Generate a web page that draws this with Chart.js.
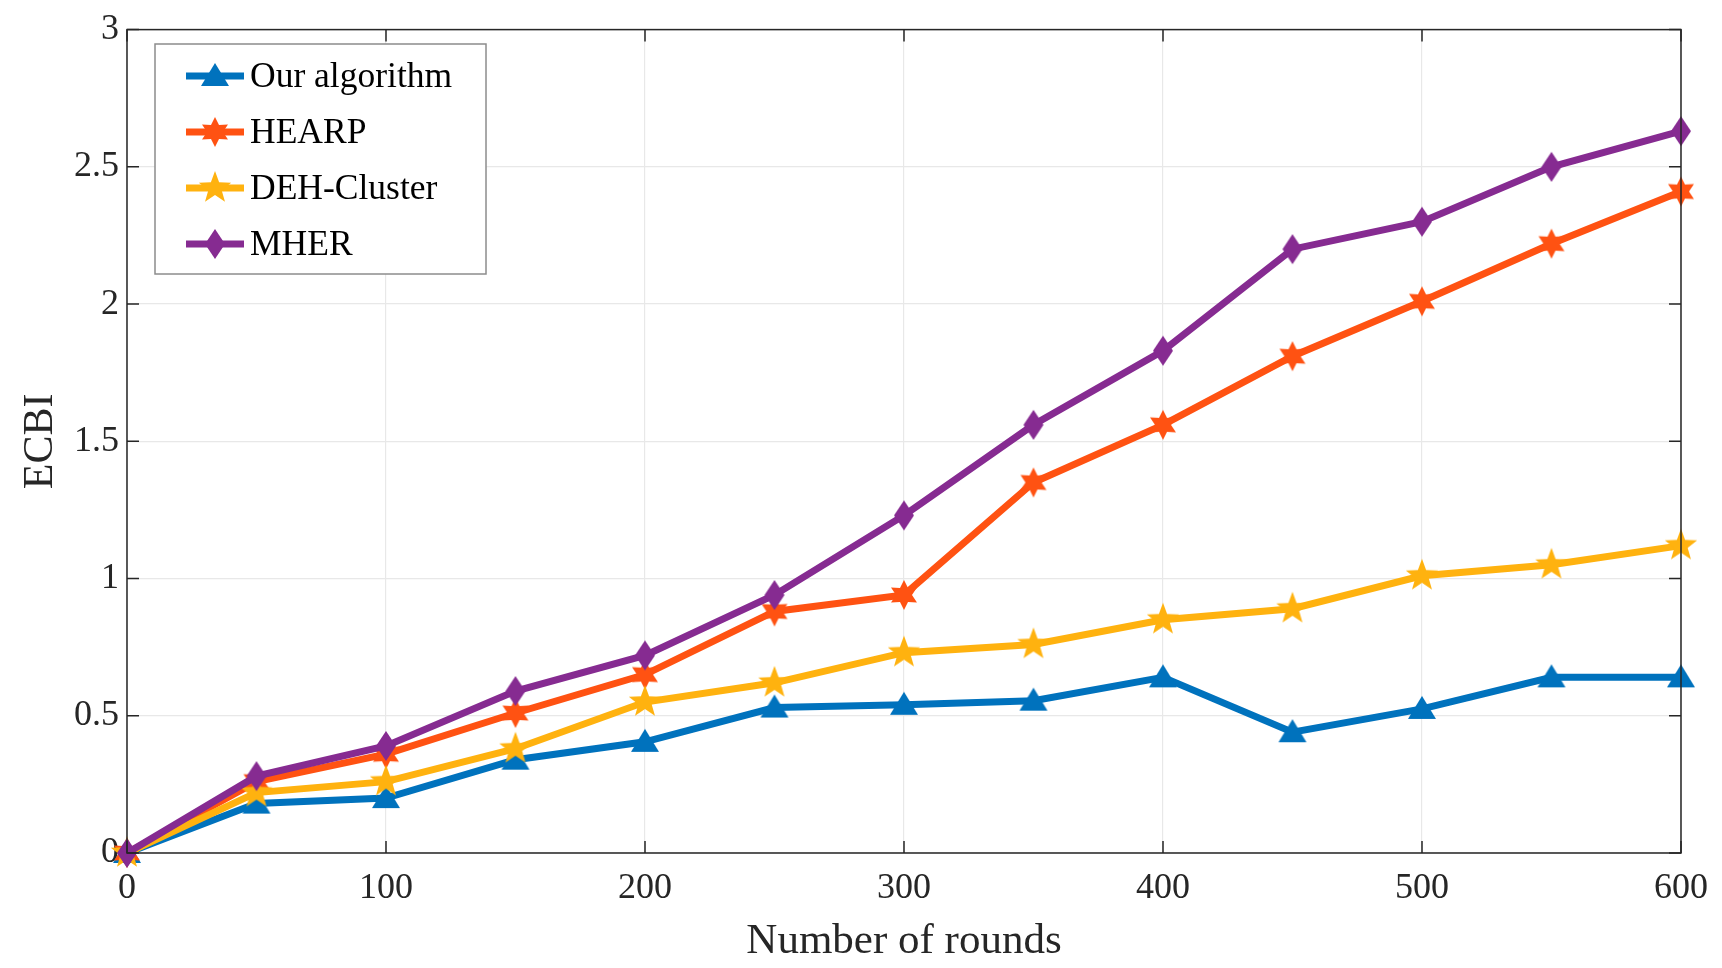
<!DOCTYPE html>
<html lang="en">
<head>
<meta charset="UTF-8">
<title>ECBI vs rounds</title>
<script src="https://cdn.jsdelivr.net/npm/chart.js@4.4.1/dist/chart.umd.min.js"></script>
<style>
    html, body { margin: 0; padding: 0; background: #fff; }
    #wrap { width: 1722px; height: 968px; }
</style>
</head>
<body>
<div id="wrap"><canvas id="chart"></canvas></div>
<script>
    const rounds = [0, 50, 100, 150, 200, 250, 300, 350, 400, 450, 500, 550, 600];
    const ourAlgorithm = [0, 0.18, 0.20, 0.34, 0.405, 0.53, 0.54, 0.555, 0.64, 0.44, 0.525, 0.64, 0.64];
    const hearp = [0, 0.26, 0.36, 0.51, 0.65, 0.88, 0.94, 1.35, 1.56, 1.81, 2.01, 2.22, 2.41];
    const dehCluster = [0, 0.22, 0.26, 0.38, 0.55, 0.62, 0.73, 0.76, 0.85, 0.89, 1.01, 1.05, 1.12];
    const mher = [0, 0.28, 0.39, 0.59, 0.72, 0.94, 1.23, 1.56, 1.83, 2.20, 2.30, 2.50, 2.63];
    const seriesNames = ['Our algorithm', 'HEARP', 'DEH-Cluster', 'MHER'];
    const xTicks = [0, 100, 200, 300, 400, 500, 600];
    const yTicks = [0, 0.5, 1, 1.5, 2, 2.5, 3];

    const colors = ['#0072BD', '#FF5212', '#FFB20F', '#862B91'];

    // draw marker shapes into small canvases (used as pointStyle)
    function makeMarker(kind, color) {
        const s = 36, c = document.createElement('canvas');
        c.width = s; c.height = s;
        const g = c.getContext('2d');
        const cx = s / 2, cy = s / 2;
        g.fillStyle = color;
        g.beginPath();
        if (kind === 'triangle') {
            g.moveTo(cx, cy - 13);
            g.lineTo(cx + 14, cy + 10);
            g.lineTo(cx - 14, cy + 10);
        } else if (kind === 'hexagram' || kind === 'pentagram') {
            const n = kind === 'hexagram' ? 6 : 5;
            const ro = kind === 'hexagram' ? 15 : 17, ri = kind === 'hexagram' ? 8 : 7;
            for (let i = 0; i < n * 2; i++) {
                const r = i % 2 === 0 ? ro : ri;
                const a = -Math.PI / 2 + i * Math.PI / n;
                const px = cx + r * Math.cos(a), py = cy + r * Math.sin(a);
                i === 0 ? g.moveTo(px, py) : g.lineTo(px, py);
            }
        } else {
            g.moveTo(cx, cy - 15);
            g.lineTo(cx + 10, cy);
            g.lineTo(cx, cy + 15);
            g.lineTo(cx - 10, cy);
        }
        g.closePath();
        g.fill();
        return c;
    }

    const markers = [
        makeMarker('triangle', colors[0]),
        makeMarker('hexagram', colors[1]),
        makeMarker('pentagram', colors[2]),
        makeMarker('diamond', colors[3])
    ];

    const allData = [ourAlgorithm, hearp, dehCluster, mher];
    // purple drawn on top, blue at the bottom
    const order = [3, 2, 1, 0];

    const datasets = allData.map((vals, i) => ({
        label: seriesNames[i],
        data: rounds.map((r, k) => ({ x: r, y: vals[k] })),
        borderColor: colors[i],
        backgroundColor: colors[i],
        borderWidth: 7,
        pointStyle: markers[i],
        pointRadius: 14,
        tension: 0,
        clip: false,
        order: order[i]
    }));

    const serif = '"Liberation Serif", "Times New Roman", serif';

    const boxPlugin = {
        id: 'matlabBox',
        afterDraw(chart) {
            const { ctx, chartArea: a, scales } = chart;
            ctx.save();
            ctx.strokeStyle = '#262626';
            ctx.lineWidth = 1.5;
            ctx.strokeRect(a.left, a.top, a.right - a.left, a.bottom - a.top);
            // inward ticks
            const tl = 12;
            ctx.beginPath();
            xTicks.forEach(v => {
                const x = scales.x.getPixelForValue(v);
                ctx.moveTo(x, a.bottom); ctx.lineTo(x, a.bottom - tl);
                ctx.moveTo(x, a.top); ctx.lineTo(x, a.top + tl);
            });
            yTicks.forEach(v => {
                const y = scales.y.getPixelForValue(v);
                ctx.moveTo(a.left, y); ctx.lineTo(a.left + tl, y);
                ctx.moveTo(a.right, y); ctx.lineTo(a.right - tl, y);
            });
            ctx.stroke();
            ctx.restore();

            // legend box in upper left
            const lx = 155, ly = 44, lw = 331, lh = 230;
            ctx.save();
            ctx.fillStyle = '#fff';
            ctx.fillRect(lx, ly, lw, lh);
            ctx.strokeStyle = '#8c8c8c';
            ctx.lineWidth = 1.5;
            ctx.strokeRect(lx, ly, lw, lh);
            ctx.font = '35.5px ' + serif;
            ctx.textBaseline = 'middle';
            seriesNames.forEach((name, i) => {
                const y = 76 + i * 56;
                ctx.strokeStyle = colors[i];
                ctx.lineWidth = 7;
                ctx.beginPath();
                ctx.moveTo(186, y); ctx.lineTo(244, y);
                ctx.stroke();
                ctx.drawImage(markers[i], 215 - 18, y - 18);
                ctx.fillStyle = '#000';
                ctx.fillText(name, 250, y + 2);
            });
            ctx.restore();
        }
    };

    new Chart(document.getElementById('chart'), {
        type: 'line',
        data: { datasets: datasets },
        plugins: [boxPlugin],
        options: {
            responsive: true,
            maintainAspectRatio: false,
            animation: false,
            layout: { padding: { top: 28, right: 36, left: 16, bottom: 0 } },
            plugins: {
                legend: { display: false },
                tooltip: { enabled: false }
            },
            scales: {
                x: {
                    type: 'linear',
                    min: 0,
                    max: 600,
                    afterBuildTicks: s => { s.ticks = xTicks.map(v => ({ value: v })); },
                    afterFit: s => { s.height = 115; },
                    grid: { color: '#e8e8e8', lineWidth: 1.2, drawTicks: false },
                    border: { display: false },
                    ticks: {
                        padding: 14,
                        color: '#262626',
                        font: { family: serif, size: 36 }
                    },
                    title: {
                        display: true,
                        text: 'Number of rounds',
                        color: '#262626',
                        padding: { top: 0, bottom: 0 },
                        font: { family: serif, size: 43 }
                    }
                },
                y: {
                    min: 0,
                    max: 3,
                    afterBuildTicks: s => { s.ticks = yTicks.map(v => ({ value: v })); },
                    afterFit: s => { s.width = 111; },
                    grid: { color: '#e8e8e8', lineWidth: 1.2, drawTicks: false },
                    border: { display: false },
                    ticks: {
                        padding: 8,
                        color: '#262626',
                        font: { family: serif, size: 36 },
                        callback: v => String(v)
                    },
                    title: {
                        display: true,
                        text: 'ECBI',
                        color: '#262626',
                        padding: { top: 0, bottom: 0 },
                        font: { family: serif, size: 42 }
                    }
                }
            }
        }
    });
</script>
</body>
</html>
